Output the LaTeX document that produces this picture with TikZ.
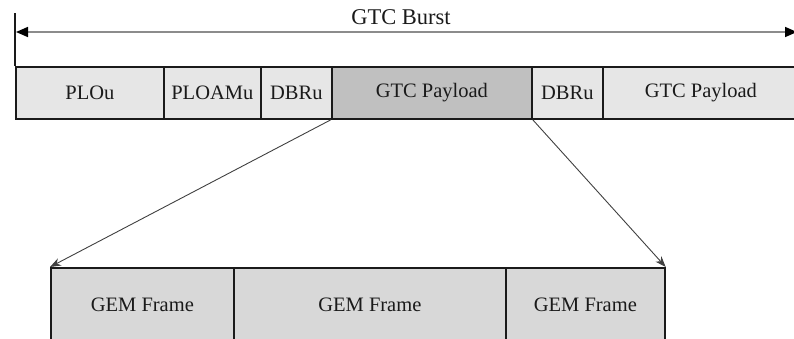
\documentclass[tikz,border=0pt]{standalone}
\usepackage{fontspec}
\setmainfont{Liberation Serif}
\usetikzlibrary{arrows.meta}
\definecolor{cellfill}{HTML}{E6E6E6}
\definecolor{payfill}{HTML}{C0C0C0}
\definecolor{gemfill}{HTML}{D8D8D8}
\definecolor{inkgray}{HTML}{1A1A1A}
\tikzset{bursttip/.tip={Triangle[length=12pt,width=10pt,fill=black,color=black]}}
\begin{document}
\begin{tikzpicture}[x=1pt,y=-1pt,
  cell/.style={draw=inkgray, line width=1.7pt, fill=cellfill, inner sep=0pt,
    anchor=north west, text=inkgray, font=\fontsize{20.5}{24}\selectfont},
  toprow/.style={cell, minimum height=52pt},
  gemrow/.style={cell, fill=gemfill, minimum height=73pt},
  zoomline/.style={draw=black!75, line width=0.9pt, -{Stealth[length=11pt,width=8pt]}}
]
\useasboundingbox (0,0) rectangle (794,338);

% upper burst layout
\node[toprow, minimum width=148pt] (plou)  at (15,66)  {PLOu};
\node[toprow, minimum width=97pt]  (ploam) at (163,66) {PLOAMu};
\node[toprow, minimum width=71pt]  (dbr1)  at (260,66) {DBRu};
\node[toprow, fill=payfill, minimum width=200pt] (pay1) at (331,66) {GTC Payload};
\node[toprow, minimum width=71pt]  (dbr2)  at (531,66) {DBRu};
\node[toprow, minimum width=196pt] (pay2)  at (602,66) {GTC Payload};

% burst extent marker
\coordinate (btop) at (15,13);
\coordinate (bstart) at (16,32);
\coordinate (bend) at (797,32);
\draw[draw=inkgray, line width=1.3pt] (btop) -- (plou.north west);
\draw[draw=black!45, line width=1.6pt, {bursttip}-{bursttip}] (bstart) -- (bend);
\node[text=inkgray, font=\fontsize{22.5}{26}\selectfont] (burst) at (401,17) {GTC Burst};

% GEM frames carried in the payload
\node[gemrow, minimum width=183pt] (gem1) at (50,267)  {GEM Frame};
\node[gemrow, minimum width=272pt] (gem2) at (233,267) {GEM Frame};
\node[gemrow, minimum width=159pt] (gem3) at (505,267) {GEM Frame};

\draw[zoomline] (pay1.south west) -- (gem1.north west);
\draw[zoomline] (pay1.south east) -- (gem3.north east);
\end{tikzpicture}
\end{document}
